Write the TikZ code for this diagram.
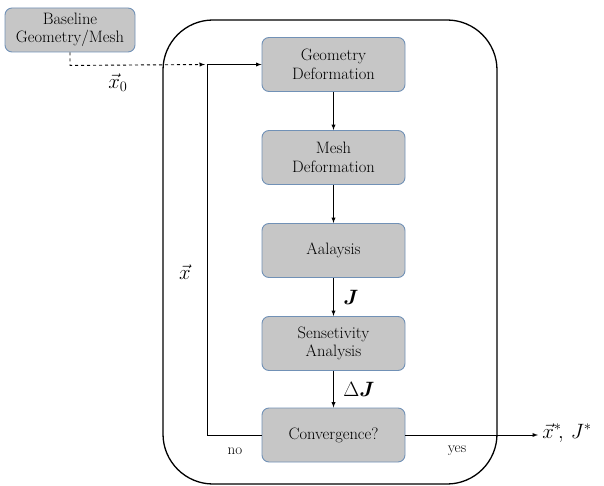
\documentclass[tikz,border=0pt]{standalone}
\usepackage{bm}
\usepackage{tikz}
\definecolor{boxfill}{HTML}{C6C6C6}
\definecolor{boxline}{HTML}{7191B6}

\begin{document}
\begin{tikzpicture}[->,>=latex,line width=0.9pt,node distance=93pt,x=1pt,y=1pt,
    every node/.append style={font=\fontsize{16.5}{18.5}\selectfont}]
    \tikzstyle{block}=[rectangle,rounded corners=7pt,draw=boxline,fill=boxfill,line width=0.9pt,minimum width=143pt,minimum height=54pt,align=center,inner sep=2pt]
    \tikzstyle{small block}=[block,minimum width=130pt,minimum height=44pt]
    \tikzstyle{var}=[inner sep=1pt,font=\fontsize{21}{23}\selectfont]
    \tikzstyle{tag}=[inner sep=1pt,font=\fontsize{15}{17}\selectfont]

    \useasboundingbox (0,0) rectangle (604,-486);

    % outer loop frame
    \draw[-,line width=1.3pt,rounded corners=50pt] (163,-20) rectangle (497,-484);

    % input
    \node[small block] (Baseline) at (70,-30) {Baseline\\Geometry/Mesh};

    % Draw the loop nodes
    \node[block] (Geo-Def) at (333.5,-64.5) {Geometry\\Deformation};
    \node[block, below of=Geo-Def] (Mesh-Def) {Mesh\\Deformation};
    \node[block, below of=Mesh-Def] (Analysis) {Aalaysis};
    \node[block, below of=Analysis] (Sens) {Sensetivity\\Analysis};
    \node[block, below of=Sens, node distance=91.5pt] (Conv) {Convergence?};

    % junction and output
    \coordinate (split) at (207,-64.5);
    \node[var, anchor=west, inner sep=4pt] (Opt) at (538,-433) {${\vec{x}}^{*}\!,\,J^{*}$};

    % labels
    \node[var] (x0) at (118,-83) {$\vec{x}_0$};
    \node[var] (x) at (185,-272) {$\vec{x}$};
    \node[var, anchor=west] (J) at (342,-297) {$\bm{J}$};
    \node[var, anchor=west] (dJ) at (342,-389) {$\Delta\bm{J}$};
    \node[tag] (no) at (235,-451) {no};
    \node[tag] (yes) at (457,-451) {yes};

    % Connect the nodes
    \draw[dashed] (Baseline.south) -- ++(0,-13) -- ([xshift=-2pt]split);
    \path (split) edge (Geo-Def);
    \path (Geo-Def) edge (Mesh-Def);
    \path (Mesh-Def) edge (Analysis);
    \path (Analysis) edge (Sens);
    \path (Sens) edge (Conv);
    \draw[-] (Conv.west) -- (split |- Conv.west) -- (split);
    \draw (Conv.east) -- (Opt.west |- Conv.east);

\end{tikzpicture}
\end{document}
